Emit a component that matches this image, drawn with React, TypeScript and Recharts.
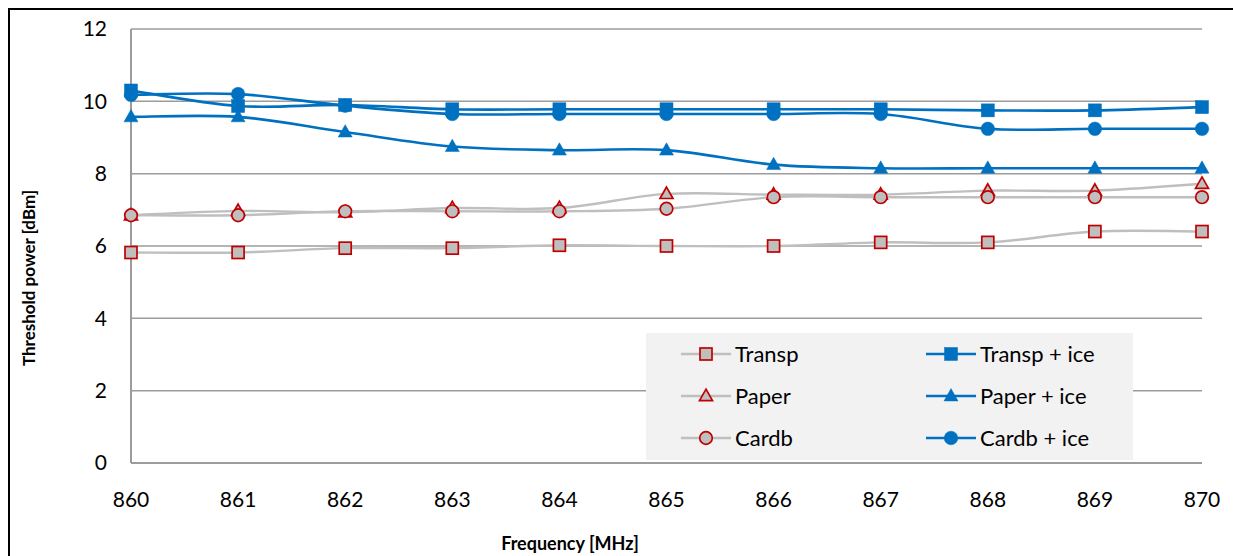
import React from 'react';
import { LineChart, Line, XAxis, YAxis, CartesianGrid, Legend } from 'recharts';

const frequencies = [860, 861, 862, 863, 864, 865, 866, 867, 868, 869, 870];
const transp = [5.82, 5.82, 5.94, 5.94, 6.02, 6.0, 6.0, 6.1, 6.1, 6.4, 6.4];
const paper = [6.85, 6.97, 6.93, 7.05, 7.05, 7.44, 7.42, 7.42, 7.53, 7.53, 7.72];
const cardb = [6.85, 6.85, 6.96, 6.96, 6.96, 7.03, 7.35, 7.35, 7.35, 7.35, 7.35];
const transpIce = [10.3, 9.87, 9.9, 9.78, 9.78, 9.78, 9.78, 9.78, 9.75, 9.75, 9.84];
const paperIce = [9.57, 9.57, 9.15, 8.75, 8.65, 8.65, 8.25, 8.15, 8.15, 8.15, 8.15];
const cardbIce = [10.18, 10.2, 9.88, 9.65, 9.65, 9.65, 9.65, 9.65, 9.24, 9.24, 9.24];
const yTicks = [0, 2, 4, 6, 8, 10, 12];

const data = frequencies.map((f, i) => ({
  freq: f,
  transp: transp[i],
  paper: paper[i],
  cardb: cardb[i],
  transpIce: transpIce[i],
  paperIce: paperIce[i],
  cardbIce: cardbIce[i],
}));

type Shape = 'square' | 'triangle' | 'circle';

const GRAY = '#BFBFBF';
const RED = '#C00000';
const BLUE = '#0070C0';
const GRID = '#9C9C9C';

const series: { key: string; name: string; shape: Shape; ice: boolean }[] = [
  { key: 'transp', name: 'Transp', shape: 'square', ice: false },
  { key: 'paper', name: 'Paper', shape: 'triangle', ice: false },
  { key: 'cardb', name: 'Cardb', shape: 'circle', ice: false },
  { key: 'transpIce', name: 'Transp + ice', shape: 'square', ice: true },
  { key: 'paperIce', name: 'Paper + ice', shape: 'triangle', ice: true },
  { key: 'cardbIce', name: 'Cardb + ice', shape: 'circle', ice: true },
];

// Excel-like smoothed line (Catmull-Rom through the points)
const smoothCurve = (context: any) => {
  let xs: number[] = [];
  let ys: number[] = [];
  return {
    areaStart() {},
    areaEnd() {},
    lineStart() {
      xs = [];
      ys = [];
    },
    point(x: number, y: number) {
      xs.push(+x);
      ys.push(+y);
    },
    lineEnd() {
      const n = xs.length;
      if (!n) return;
      context.moveTo(xs[0], ys[0]);
      for (let i = 0; i < n - 1; i++) {
        const a = Math.max(i - 1, 0);
        const d = Math.min(i + 2, n - 1);
        const c1x = xs[i] + (xs[i + 1] - xs[a]) / 6;
        const c1y = ys[i] + (ys[i + 1] - ys[a]) / 6;
        const c2x = xs[i + 1] - (xs[d] - xs[i]) / 6;
        const c2y = ys[i + 1] - (ys[d] - ys[i]) / 6;
        context.bezierCurveTo(c1x, c1y, c2x, c2y, xs[i + 1], ys[i + 1]);
      }
    },
  };
};

const Marker = ({ cx, cy, shape, ice }: { cx: number; cy: number; shape: Shape; ice: boolean }) => {
  const size = ice ? 13 : 12;
  const fill = ice ? BLUE : GRAY;
  const stroke = ice ? BLUE : RED;
  const sw = ice ? 0.5 : 1.7;
  if (shape === 'square') {
    return <rect x={cx - size / 2} y={cy - size / 2} width={size} height={size} fill={fill} stroke={stroke} strokeWidth={sw} />;
  }
  if (shape === 'circle') {
    return <circle cx={cx} cy={cy} r={size / 2 + 0.3} fill={fill} stroke={stroke} strokeWidth={sw} />;
  }
  const h = size * 0.95;
  const pts = `${cx},${cy - h * 0.6} ${cx + size / 2 + 0.5},${cy + h * 0.4} ${cx - size / 2 - 0.5},${cy + h * 0.4}`;
  return <polygon points={pts} fill={fill} stroke={stroke} strokeWidth={sw} strokeLinejoin="miter" />;
};

const LegendBox = () => (
  <div
    style={{
      width: 487,
      height: 127,
      background: '#F2F2F2',
      position: 'relative',
      fontFamily: 'Lato',
      fontSize: 22,
      color: '#000',
    }}
  >
    {series.map((s, i) => {
      const left = s.ice ? 280 : 35;
      const top = 21 + (i % 3) * 42;
      const color = s.ice ? BLUE : GRAY;
      return (
        <div key={s.key} style={{ position: 'absolute', left, top: top - 13, height: 26, display: 'flex', alignItems: 'center' }}>
          <svg width={50} height={26}>
            <line x1={0} y1={13} x2={50} y2={13} stroke={color} strokeWidth={2.5} />
            <Marker cx={25} cy={13} shape={s.shape} ice={s.ice} />
          </svg>
          <span style={{ marginLeft: 4, lineHeight: '26px' }}>{s.name}</span>
        </div>
      );
    })}
  </div>
);

export default function App() {
  return (
    <div style={{ width: 1233, height: 556, paddingLeft: 8, paddingTop: 8, boxSizing: 'border-box', background: '#fff', overflow: 'hidden' }}>
      <style>{'body { margin: 0; }'}</style>
      <div
        style={{
          width: 1225,
          height: 548,
          borderTop: '2px solid #000',
          borderLeft: '2px solid #000',
          boxSizing: 'border-box',
          fontFamily: 'Lato',
        }}
      >
        <LineChart width={1223} height={546} data={data} margin={{ top: 19, right: 31, bottom: 0, left: 0 }}>
          <CartesianGrid horizontal vertical={false} stroke={GRID} strokeWidth={1.5} />
          <XAxis
            dataKey="freq"
            type="number"
            domain={[860, 870]}
            ticks={frequencies}
            interval={0}
            height={93}
            tickLine={false}
            tickSize={0}
            tickMargin={29}
            axisLine={{ stroke: GRID, strokeWidth: 2 }}
            tick={{ fill: '#000', fontSize: 21, fontFamily: 'Lato' }}
            label={{
              content: () => (
                <text x={560} y={533} textAnchor="middle" dominantBaseline="central" fontFamily="Lato" fontWeight="bold" fontSize={18} fill="#000">
                  Frequency [MHz]
                </text>
              ),
            }}
          />
          <YAxis
            type="number"
            domain={[0, 12]}
            ticks={yTicks}
            interval={0}
            width={121}
            tickLine={false}
            tickSize={0}
            tickMargin={24}
            axisLine={{ stroke: GRID, strokeWidth: 2 }}
            tick={{ fill: '#000', fontSize: 21, fontFamily: 'Lato' }}
            label={{
              content: () => (
                <text
                  x={18}
                  y={268}
                  transform="rotate(-90, 18, 268)"
                  textAnchor="middle"
                  dominantBaseline="central"
                  fontFamily="Lato"
                  fontWeight="bold"
                  fontSize={17}
                  fill="#000"
                >
                  Threshold power [dBm]
                </text>
              ),
            }}
          />
          <Legend
            layout="horizontal"
            verticalAlign="middle"
            align="center"
            wrapperStyle={{ left: 636, top: 323, width: 487, height: 127, bottom: 'auto', right: 'auto' }}
            content={() => <LegendBox />}
          />
          {series.map((s) => (
            <Line
              key={s.key}
              dataKey={s.key}
              name={s.name}
              type={smoothCurve as any}
              stroke={s.ice ? BLUE : GRAY}
              strokeWidth={s.ice ? 2.6 : 2.4}
              isAnimationActive={false}
              activeDot={false}
              dot={(p: any) => <Marker key={`${s.key}-${p.index}`} cx={p.cx} cy={p.cy} shape={s.shape} ice={s.ice} />}
            />
          ))}
        </LineChart>
      </div>
    </div>
  );
}
